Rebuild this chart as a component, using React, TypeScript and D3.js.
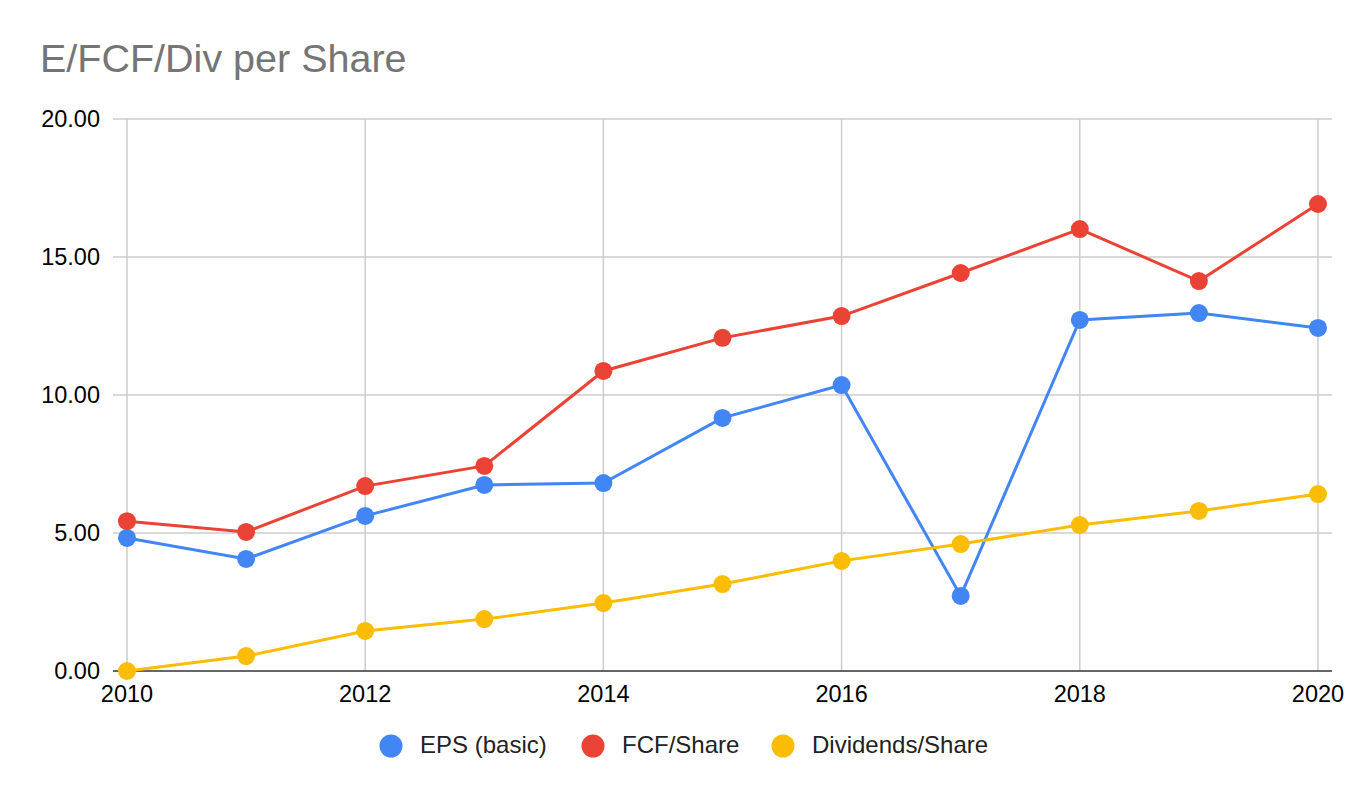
import React from "react";
import * as d3 from "d3";

const years = [2010, 2011, 2012, 2013, 2014, 2015, 2016, 2017, 2018, 2019, 2020];
const eps = [4.82, 4.06, 5.62, 6.74, 6.81, 9.17, 10.36, 2.72, 12.72, 12.97, 12.43];
const fcf = [5.43, 5.04, 6.7, 7.43, 10.87, 12.07, 12.86, 14.42, 16.01, 14.13, 16.92];
const divs = [0, 0.54, 1.45, 1.88, 2.46, 3.15, 3.99, 4.6, 5.29, 5.8, 6.41];
const seriesNames = ["EPS (basic)", "FCF/Share", "Dividends/Share"];
const seriesColors = ["#4285f4", "#ea4335", "#fbbc04"];
const yTicks = [0, 5, 10, 15, 20];
const xTicks = [2010, 2012, 2014, 2016, 2018, 2020];

export default function App() {
  const W = 1372, H = 798;
  const x = d3.scaleLinear().domain([2010, 2020]).range([127, 1318]);
  const y = d3.scaleLinear().domain([0, 20]).range([671, 119]);
  const series = [eps, fcf, divs];
  const line = d3.line<number>().x((_, i) => x(years[i])).y((d) => y(d));
  const font = "Arial, 'Liberation Sans', sans-serif";
  const legendX = [391, 593, 783];
  return (
    <svg width={W} height={H} style={{ position: "absolute", left: 0, top: 0 }} fontFamily={font}>
      <rect width={W} height={H} fill="#fff" />
      <text x={40} y={72} fontSize={39.5} fill="#757575">E/FCF/Div per Share</text>
      {yTicks.map((t) => (
        <g key={t}>
          {t !== 0 && <line x1={113} x2={1332} y1={y(t)} y2={y(t)} stroke="#cccccc" strokeWidth={1.5} />}
          <text x={100} y={y(t) + 7.5} textAnchor="end" fontSize={23.5} fill="#000">{d3.format(".2f")(t)}</text>
        </g>
      ))}
      {xTicks.map((t) => (
        <g key={t}>
          <line x1={x(t)} x2={x(t)} y1={119} y2={671} stroke="#cccccc" strokeWidth={1.5} />
          <text x={x(t)} y={702} textAnchor="middle" fontSize={23.5} fill="#000">{t}</text>
        </g>
      ))}
      <line x1={113} x2={1332} y1={y(0)} y2={y(0)} stroke="#333333" strokeWidth={1.5} />
      {series.map((s, k) => (
        <g key={k}>
          <path d={line(s) || ""} fill="none" stroke={seriesColors[k]} strokeWidth={3} />
          {s.map((v, i) => (
            <circle key={i} cx={x(years[i])} cy={y(v)} r={9} fill={seriesColors[k]} />
          ))}
        </g>
      ))}
      {seriesNames.map((n, k) => (
        <g key={n}>
          <circle cx={legendX[k]} cy={746} r={11.5} fill={seriesColors[k]} />
          <text x={legendX[k] + 29} y={753} fontSize={24} fill="#222">{n}</text>
        </g>
      ))}
    </svg>
  );
}
